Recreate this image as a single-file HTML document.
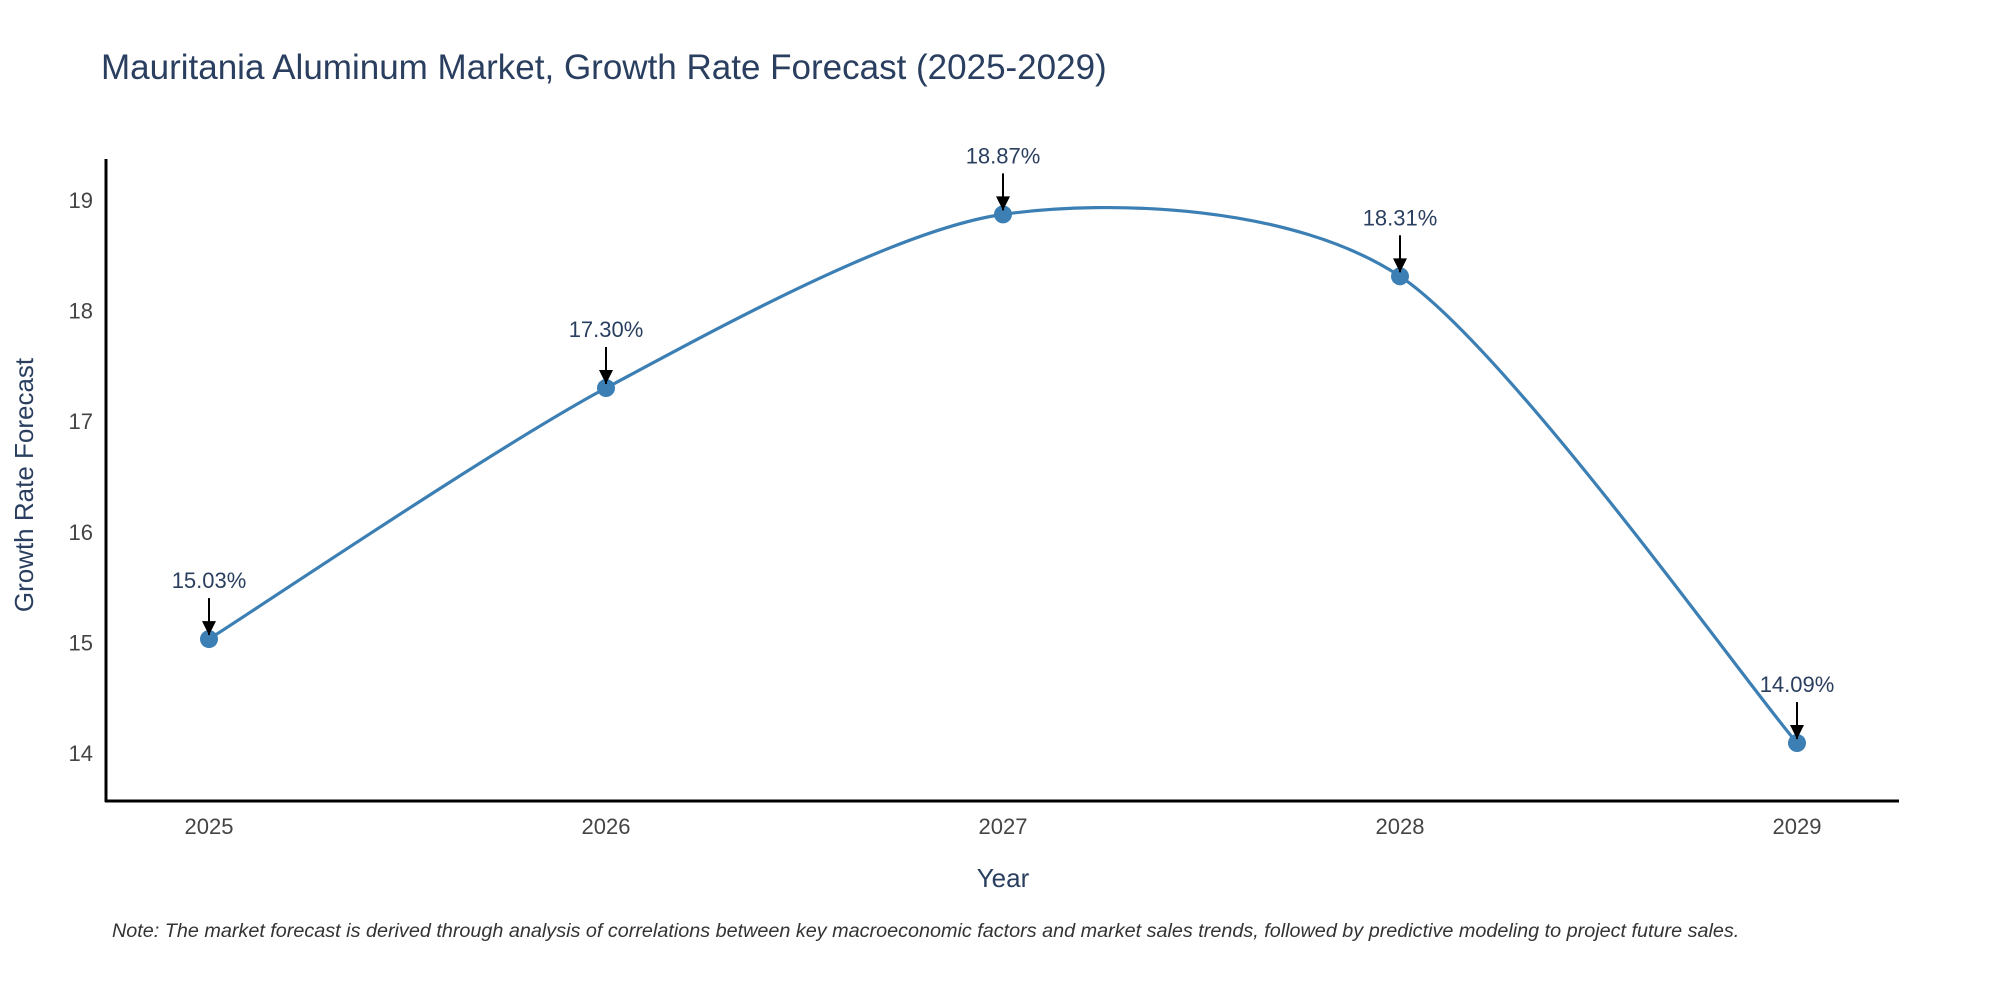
<!DOCTYPE html>
<html><head><meta charset="utf-8"><style>
body{margin:0;background:#fff;}
svg text{font-family:"Liberation Sans",sans-serif;}
</style></head><body>
<svg id="chart" width="2000" height="1000" xmlns="http://www.w3.org/2000/svg">
<rect width="2000" height="1000" fill="#fff"/>
<text x="101" y="79" font-size="35" fill="#2a3f5f">Mauritania Aluminum Market, Growth Rate Forecast (2025-2029)</text>
<g id="yticks"></g><g id="xticks"></g>
<line x1="106" y1="159" x2="106" y2="802" stroke="#000" stroke-width="3"/>
<line x1="105" y1="801" x2="1899" y2="801" stroke="#000" stroke-width="3"/>
<text x="1003" y="887" font-size="26" fill="#2a3f5f" text-anchor="middle">Year</text>
<text transform="translate(33,485) rotate(-90)" font-size="26" fill="#2a3f5f" text-anchor="middle">Growth Rate Forecast</text>
<g id="series"></g>
<text x="112" y="937" font-size="19.8" font-style="italic" fill="#333">Note: The market forecast is derived through analysis of correlations between key macroeconomic factors and market sales trends, followed by predictive modeling to project future sales.</text>
</svg>
<script>
const years=[2025,2026,2027,2028,2029];
const values=[15.03,17.30,18.87,18.31,14.09];
const yTicks=[14,15,16,17,18,19];
const NS="http://www.w3.org/2000/svg";
const xS=v=>209+(v-2025)*397;
const yS=v=>753-(v-14)*110.6;
function mk(t,a,p){const e=document.createElementNS(NS,t);for(const k in a)e.setAttribute(k,a[k]);p.appendChild(e);return e;}
const yt=document.getElementById('yticks'),xt=document.getElementById('xticks'),s=document.getElementById('series');
yTicks.forEach(v=>{const t=mk('text',{x:93,y:yS(v)+8,'font-size':22,fill:'#444','text-anchor':'end'},yt);t.textContent=v;

});
years.forEach(v=>{const t=mk('text',{x:xS(v),y:834,'font-size':22,fill:'#444','text-anchor':'middle'},xt);t.textContent=v;

});
const P=years.map((y,i)=>[xS(y),yS(values[i])]);
let d='M'+P[0][0]+','+P[0][1];const T=0.27;
for(let i=0;i<P.length-1;i++){const p0=P[i-1]||P[i],p1=P[i],p2=P[i+1],p3=P[i+2]||P[i+1];
const c1=[p1[0]+(p2[0]-p0[0])*T/2*1.0, p1[1]+(p2[1]-p0[1])*T/2];
const c2=[p2[0]-(p3[0]-p1[0])*T/2, p2[1]-(p3[1]-p1[1])*T/2];
d+=` C${c1[0]},${c1[1]} ${c2[0]},${c2[1]} ${p2[0]},${p2[1]}`;}
const line=mk('path',{d:d,fill:'none',stroke:'#3b7fb4','stroke-width':3.2},s);


P.forEach((p,i)=>{
const c=mk('circle',{cx:p[0],cy:p[1],r:9,fill:'#3b7fb4'},s);


const a=mk('line',{x1:p[0],y1:p[1]-41,x2:p[0],y2:p[1]-4,stroke:'#000','stroke-width':2},s);


const h=mk('path',{d:`M${p[0]-7},${p[1]-18}L${p[0]+7},${p[1]-18}L${p[0]},${p[1]-4}z`,fill:'#000'},s);


const t=mk('text',{x:p[0],y:p[1]-51,'font-size':22,fill:'#2a3f5f','text-anchor':'middle'},s);
t.textContent=values[i].toFixed(2)+'%';


});
</script>
</body></html>
